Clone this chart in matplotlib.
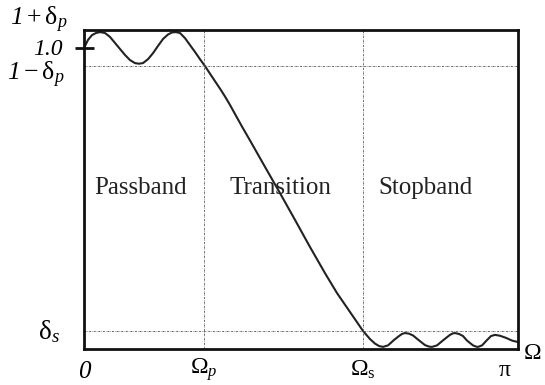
import numpy as np
import matplotlib
matplotlib.use("Agg")
import matplotlib.pyplot as plt

plt.rcParams["mathtext.fontset"] = "custom"
plt.rcParams["mathtext.rm"] = "Liberation Serif"
plt.rcParams["mathtext.it"] = "Liberation Serif:italic"
plt.rcParams["mathtext.cal"] = "Liberation Serif:italic"
plt.rcParams["font.family"] = ["Liberation Serif", "DejaVu Serif"]

# Frequency samples as a fraction of pi, and the corresponding magnitude response
w_frac = [0.0000, 0.0092, 0.0184, 0.0276, 0.0369, 0.0484, 0.0599, 0.0714, 0.0829,
          0.0945, 0.1060, 0.1175, 0.1267, 0.1359, 0.1475, 0.1590, 0.1705, 0.1820,
          0.1935, 0.2028, 0.2120, 0.2212, 0.2327, 0.2442, 0.2558, 0.2673, 0.2788,
          0.2903, 0.3018, 0.3134, 0.3249, 0.3364, 0.3479, 0.3641, 0.3825, 0.4171,
          0.4516, 0.4862, 0.5207, 0.5553, 0.5829, 0.6129, 0.6429, 0.6590, 0.6705,
          0.6797, 0.6889, 0.7005, 0.7143, 0.7258, 0.7327, 0.7396, 0.7488, 0.7581,
          0.7707, 0.7857, 0.7949, 0.8018, 0.8134, 0.8283, 0.8433, 0.8502, 0.8548,
          0.8641, 0.8733, 0.8825, 0.8963, 0.9032, 0.9078, 0.9171, 0.9274, 0.9378,
          0.9470, 0.9585, 0.9724, 0.9862, 1.0000]
magnitude = [1.000, 1.027, 1.043, 1.050, 1.053, 1.050, 1.037, 1.017, 0.997,
             0.977, 0.960, 0.950, 0.948, 0.950, 0.963, 0.983, 1.007, 1.030,
             1.045, 1.052, 1.053, 1.050, 1.033, 1.010, 0.987, 0.963, 0.940,
             0.915, 0.890, 0.865, 0.839, 0.811, 0.781, 0.739, 0.693, 0.605,
             0.518, 0.429, 0.339, 0.252, 0.186, 0.123, 0.060, 0.033, 0.018,
             0.010, 0.007, 0.012, 0.030, 0.043, 0.050, 0.053, 0.051, 0.045,
             0.030, 0.013, 0.008, 0.007, 0.012, 0.030, 0.047, 0.052, 0.053,
             0.050, 0.043, 0.028, 0.012, 0.008, 0.007, 0.012, 0.028, 0.043,
             0.047, 0.044, 0.037, 0.028, 0.023]

# Specification parameters
delta_p = 0.06
delta_s = 0.06
omega_p = 0.2765 * np.pi
omega_s = 0.6429 * np.pi

band_names = ["Passband", "Transition", "Stopband"]
band_x = [0.131 * np.pi, 0.452 * np.pi, 0.786 * np.pi]

fig = plt.figure(figsize=(5.45, 3.85), dpi=100)
ax = fig.add_axes([84 / 545, 36 / 385, 434 / 545, 319 / 385])

w = np.array(w_frac) * np.pi
ax.plot(w, magnitude, color="#222222", lw=1.5, solid_joinstyle="round")

ax.set_xlim(0, np.pi)
ax.set_ylim(0, 1 + delta_p)

grid_style = dict(color="#555555", lw=0.6, ls=(0, (2.5, 1.2, 0.6, 1.2)))
ax.axhline(1 - delta_p, **grid_style)
ax.axhline(delta_s, **grid_style)
ax.axvline(omega_p, **grid_style)
ax.axvline(omega_s, **grid_style)

for s in ax.spines.values():
    s.set_linewidth(2.0)
    s.set_color("#111111")
ax.set_xticks([])
ax.set_yticks([])

# Nominal passband gain marker crossing the left edge
ax.plot([-0.065, 0.07], [1.0, 1.0], color="#111111", lw=2.0, clip_on=False,
        solid_capstyle="butt")

# Band names
for name, xb in zip(band_names, band_x):
    ax.text(xb, 0.535, name, ha="center", va="center", fontsize=18,
            color="#222222")

fs = 17
fs_sym = 18.5
# Magnitude labels (italic digits come from the cal slot)
ax.text(-0.116, 1.093, r"$\mathcal{1}+\mathrm{\delta}_{p}$", ha="right",
        va="center", fontsize=fs_sym)
ax.text(-0.152, 0.995, "1.0", ha="right", va="center", fontsize=fs,
        style="italic")
ax.text(-0.138, 0.912, r"$\mathcal{1}-\mathrm{\delta}_{p}$", ha="right",
        va="center", fontsize=fs_sym)
ax.text(-0.253, 0.058, r"$\mathrm{\delta}_{s}$", ha="center", va="center",
        fontsize=19.5)

# Frequency labels
ax.text(0.0, -0.078, "0", ha="center", va="center", fontsize=18,
        style="italic")
ax.text(omega_p, -0.07, r"$\Omega_{p}$", ha="center", va="center", fontsize=fs)
ax.text(omega_s, -0.07, r"$\Omega_{\mathrm{s}}$", ha="center", va="center",
        fontsize=fs)
ax.text(3.047, -0.07, r"$\mathrm{\pi}$", ha="center", va="center", fontsize=fs)
ax.text(3.245, -0.015, r"$\Omega$", ha="center", va="center", fontsize=fs)

fig.savefig("out.png", dpi=100)
